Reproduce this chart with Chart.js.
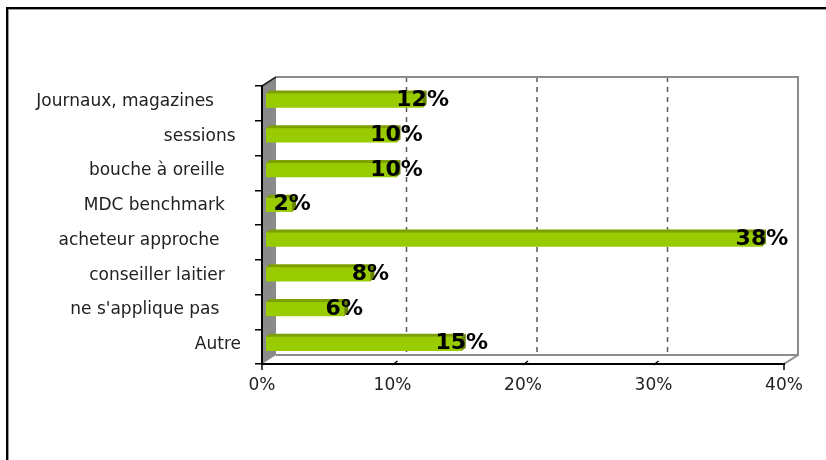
<!DOCTYPE html>
<html><head><meta charset="utf-8">
<script src="https://cdn.jsdelivr.net/npm/chart.js@4/dist/chart.umd.min.js"></script>
<style>html,body{margin:0;padding:0;background:#fff;overflow:hidden}canvas{display:block}</style>
</head><body>
<canvas id="c" width="826" height="460"></canvas>
<script>
const categories = ['Journaux, magazines', 'sessions', 'bouche à oreille', 'MDC benchmark', 'acheteur approche', 'conseiller laitier', "ne s'applique pas", 'Autre'];
const values = [12, 10, 10, 2, 38, 8, 6, 15];
const xTickValues = [0, 10, 20, 30, 40];
const gridValues = [10, 20, 30];
const labelTrailingSpaces = [5, 1, 3, 3, 4, 3, 4, 0];

const DX = 14, DY = 9;        // depth of the 3D walls
const BX = 4, BY = 3;         // bar offset into depth
const FX = 4, FY = 3;         // bar top/side face depth
const WALL_GRAY = '#8a8a8a';

const plugin3d = {
  id: 'plugin3d',
  beforeDraw(chart) {
    const {ctx, chartArea: a} = chart;
    const x = chart.scales.x;
    ctx.save();
    ctx.fillStyle = '#fff';
    ctx.fillRect(a.left + DX, a.top - DY, a.right - a.left, a.bottom - a.top);
    ctx.strokeStyle = '#5a5a5a';
    ctx.lineWidth = 1.5;
    ctx.setLineDash([5, 5]);
    gridValues.forEach(v => {
      const px = x.getPixelForValue(v) + DX;
      ctx.beginPath();
      ctx.moveTo(px, a.top - DY);
      ctx.lineTo(px, a.bottom - DY);
      ctx.stroke();
    });
    ctx.setLineDash([]);
    ctx.strokeStyle = '#8c8c8c';
    ctx.lineWidth = 2;
    ctx.beginPath();
    ctx.moveTo(a.left + DX, a.top - DY);
    ctx.lineTo(a.right + DX, a.top - DY);
    ctx.lineTo(a.right + DX, a.bottom - DY);
    ctx.lineTo(a.left + DX, a.bottom - DY);
    ctx.stroke();
    ctx.beginPath();
    ctx.moveTo(a.right + DX, a.bottom - DY);
    ctx.lineTo(a.right, a.bottom);
    ctx.stroke();
    ctx.fillStyle = WALL_GRAY;
    ctx.beginPath();
    ctx.moveTo(a.left, a.top);
    ctx.lineTo(a.left + DX, a.top - DY);
    ctx.lineTo(a.left + DX, a.bottom - DY);
    ctx.lineTo(a.left, a.bottom);
    ctx.closePath();
    ctx.fill();
    ctx.strokeStyle = '#222';
    ctx.lineWidth = 1.5;
    ctx.beginPath();
    ctx.moveTo(a.left, a.top);
    ctx.lineTo(a.left + DX, a.top - DY);
    ctx.stroke();
    ctx.restore();
  },
  beforeDatasetsDraw(chart) {
    chart.ctx.save();
    chart.ctx.translate(BX, -BY);
  },
  afterDatasetsDraw(chart) {
    const ctx = chart.ctx;
    const meta = chart.getDatasetMeta(0);
    meta.data.forEach((bar) => {
      const h = bar.height;
      const x0 = bar.base, x1 = bar.x, yt = bar.y - h / 2, yb = bar.y + h / 2;
      ctx.fillStyle = '#7d9f00';
      ctx.beginPath();
      ctx.moveTo(x0, yt);
      ctx.lineTo(x1, yt);
      ctx.lineTo(x1 + FX, yt - FY);
      ctx.lineTo(x0 + FX, yt - FY);
      ctx.closePath();
      ctx.fill();
      ctx.fillStyle = '#668300';
      ctx.beginPath();
      ctx.moveTo(x1, yt);
      ctx.lineTo(x1 + FX, yt - FY);
      ctx.lineTo(x1 + FX, yb - FY);
      ctx.lineTo(x1, yb);
      ctx.closePath();
      ctx.fill();
    });
    ctx.fillStyle = '#000';
    ctx.font = 'bold 22px "DejaVu Sans"';
    ctx.textAlign = 'center';
    ctx.textBaseline = 'middle';
    meta.data.forEach((bar, i) => {
      ctx.fillText(values[i] + '%', bar.x, bar.y);
    });
    ctx.restore();
  },
  afterDraw(chart) {
    const {ctx, chartArea: a} = chart;
    const x = chart.scales.x;
    ctx.save();
    ctx.strokeStyle = '#000';
    ctx.lineWidth = 1.5;
    xTickValues.forEach((v, i) => {
      const px = x.getPixelForValue(v);
      ctx.beginPath();
      if (i === 0 || i === xTickValues.length - 1) {
        ctx.moveTo(px, a.bottom);
        ctx.lineTo(px, a.bottom + 6);
      } else {
        ctx.moveTo(px, a.bottom + 1);
        ctx.lineTo(px + 5, a.bottom - 3);
      }
      ctx.stroke();
    });
    ctx.fillStyle = '#000';
    ctx.fillRect(6, 7, 820, 2);
    ctx.fillRect(6, 7, 2, 453);
    ctx.fillStyle = '#9a9a9a';
    ctx.fillRect(8, 9, 818, 1);
    ctx.fillRect(8, 9, 1, 451);
    ctx.restore();
  }
};

new Chart(document.getElementById('c'), {
  type: 'bar',
  data: {
    labels: categories,
    datasets: [{
      data: values,
      backgroundColor: '#99cc00',
      borderWidth: 0,
      barThickness: 14
    }]
  },
  options: {
    indexAxis: 'y',
    responsive: false,
    animation: false,
    devicePixelRatio: 1,
    layout: {padding: {left: 0, right: 42, top: 86, bottom: 0}},
    plugins: {legend: {display: false}, tooltip: {enabled: false}},
    scales: {
      x: {
        type: 'linear',
        min: 0, max: 40,
        afterFit(s) { s.height = 96; },
        ticks: {
          stepSize: 10,
          padding: 11,
          color: '#222',
          font: {family: 'DejaVu Sans', size: 17},
          callback: v => v + '%'
        },
        grid: {display: false, drawTicks: false},
        border: {display: true, color: '#000', width: 2}
      },
      y: {
        afterFit(s) { s.width = 262; },
        ticks: {
          padding: 14,
          labelOffset: -2,
          color: '#222',
          font: {family: 'DejaVu Sans', size: 17},
          callback: function(v, i) { return categories[i] + ' '.repeat(labelTrailingSpaces[i]); }
        },
        grid: {drawOnChartArea: false, drawTicks: true, tickLength: 7, color: '#000', lineWidth: 1.5},
        border: {display: true, color: '#000', width: 2}
      }
    }
  },
  plugins: [plugin3d]
});
</script>
</body></html>
